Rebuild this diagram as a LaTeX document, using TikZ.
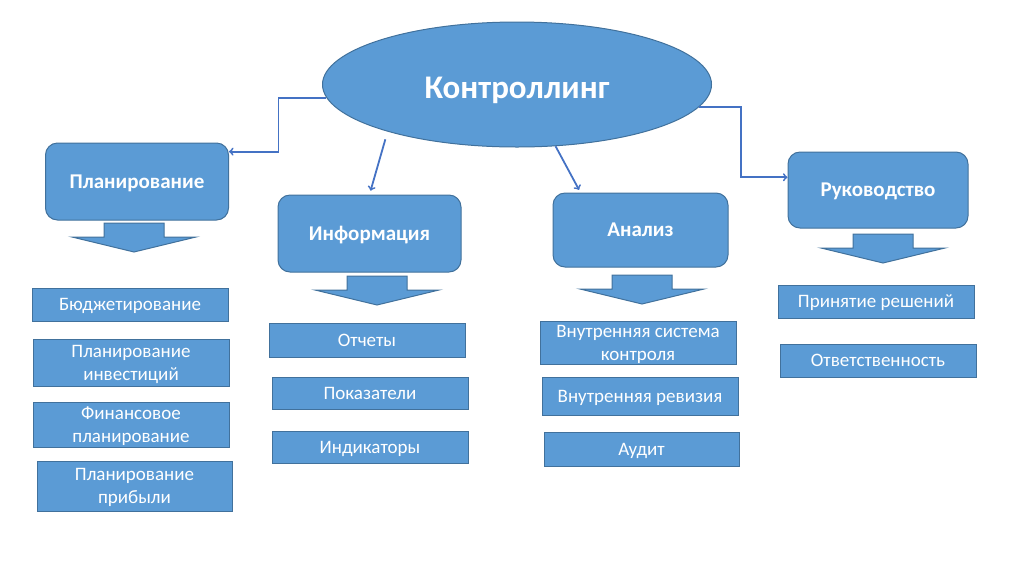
\documentclass[tikz,border=0pt]{standalone}
\usepackage{fontspec}
\setmainfont{Carlito}
\usepackage{tikz}
\usetikzlibrary{shapes.geometric}
\definecolor{kfill}{HTML}{5B9BD5}
\definecolor{kline}{HTML}{41719C}
\definecolor{karrow}{HTML}{4472C4}
\newcommand{\ktext}{\fontsize{19}{23}\selectfont}
\newcommand{\khead}{\fontsize{21}{25}\selectfont\bfseries}
\newcommand{\kdown}[2]{\draw[draw=kline,fill=kfill,line width=1pt] (#1-30,#2) -- (#1+30,#2) -- (#1+30,#2+14) -- (#1+62,#2+14) -- (#1,#2+29) -- (#1-62,#2+14) -- (#1-30,#2+14) -- cycle;}

\begin{document}
\begin{tikzpicture}[x=1pt,y=-1pt,style=thick]
	\useasboundingbox (0,0) rectangle (1024,574);
	\begin{scope}[line width=1pt,text=white,align=center]
	\tikzstyle{every node}=[draw=kline,fill=kfill,inner sep=0pt,text depth=0pt,font=\ktext]
	\node[ellipse,minimum width=389pt,minimum height=125pt,text height=28pt,font=\fontsize{33}{38}\selectfont\bfseries] (ktrl) at (517,84.5) {Контроллинг};
	% main blocks
	\node[rounded corners=12pt,minimum width=183pt,minimum height=77pt,font=\khead] (plan) at (137,181.5) {Планирование};
	\node[rounded corners=12pt,minimum width=183pt,minimum height=77pt,font=\khead] (info) at (369.5,233.5) {Информация};
	\node[rounded corners=12pt,minimum width=175pt,minimum height=74pt,font=\khead] (anal) at (640.5,230) {Анализ};
	\node[rounded corners=12pt,minimum width=180pt,minimum height=76pt,font=\khead] (ruk) at (878,190) {Руководство};
	% items
	\node[minimum width=196pt,minimum height=33pt] (bud) at (130,304.5) {Бюджетирование};
	\node[minimum width=196pt,minimum height=47pt] (pinv) at (131,362.5) {Планирование\\инвестиций};
	\node[minimum width=196pt,minimum height=45pt] (fin) at (131,424.5) {Финансовое\\планирование};
	\node[minimum width=195pt,minimum height=50pt] (prib) at (134.5,486) {Планирование\\прибыли};
	\node[minimum width=196pt,minimum height=34pt] (otch) at (367,340) {Отчеты};
	\node[minimum width=196pt,minimum height=32pt] (pok) at (370,393) {Показатели};
	\node[minimum width=196pt,minimum height=32pt] (ind) at (370,447) {Индикаторы};
	\node[minimum width=196pt,minimum height=43pt] (vsk) at (638,342.5) {Внутренняя система\\контроля};
	\node[minimum width=196pt,minimum height=38pt] (vrev) at (640,396) {Внутренняя ревизия};
	\node[minimum width=195pt,minimum height=34pt] (aud) at (641.5,449) {Аудит};
	\node[minimum width=196pt,minimum height=33pt] (prin) at (876,301.5) {Принятие решений};
	\node[minimum width=196pt,minimum height=33pt] (otv) at (878,360.5) {Ответственность};
	\end{scope}
	% block arrows
	\kdown{134}{223}
	\kdown{377}{276}
	\kdown{642}{275}
	\kdown{883}{234}
	% connectors
	\draw [->,karrow,line width=1.8pt] (ktrl.184) -- ++(-48,0) |- (plan.18);
	\draw [->,karrow,line width=1.8pt,shorten <=8pt,shorten >=4pt] (ktrl.200.6) -- (info.north);
	\draw [->,karrow,line width=1.8pt,shorten >=3pt] (ktrl.302) -- (anal.148);
	\draw [->,karrow,line width=1.8pt] (ktrl.353.6) -- ++(42,0) |- (ruk.172);
\end{tikzpicture}
\end{document}
